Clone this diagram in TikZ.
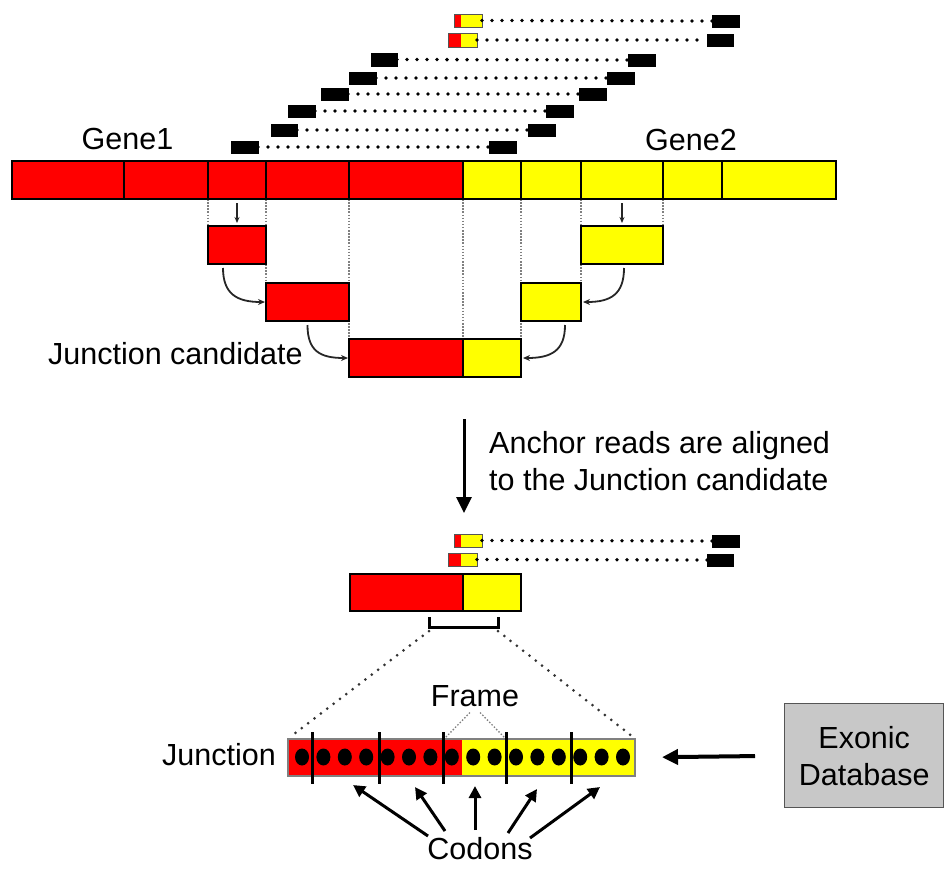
\documentclass[tikz,border=0pt]{standalone}
\usepackage{fontspec}
\setmainfont{Liberation Sans}
\usetikzlibrary{arrows.meta,backgrounds}
\definecolor{gred}{HTML}{FF0000}
\definecolor{gyel}{HTML}{FFFF00}
\definecolor{dbgray}{HTML}{C8C8C8}
\definecolor{edgegray}{HTML}{555555}
\newcommand{\bx}[6]{\node[rectangle,inner sep=0pt,outer sep=0pt,anchor=north west,minimum width={(#4-#2)*1pt},minimum height={(#5-#3)*1pt},#6] (#1) at (#2,#3) {};}
\begin{document}
\begin{tikzpicture}[x=1pt,y=-1pt,
  font=\fontsize{30.5}{37}\selectfont,
  seg/.style={draw=black,line width=1.8pt},
  rd/.style={draw=black,fill=black,line width=0.6pt},
  fusion/.style={draw=edgegray,line width=1pt,fill=gyel,
    path picture={\fill[gred] (path picture bounding box.north west) rectangle ([xshift=#1]path picture bounding box.south west);}},
  readdots/.style={line width=3.8pt,line cap=round,dash pattern=on 0pt off 10pt},
  gdots/.style={draw=gray,line width=1.3pt,dash pattern=on 1.5pt off 1.6pt},
  smallarr/.style={draw=black!85,line width=1.4pt,-{Stealth[length=6pt,width=5pt]}},
  curvarr/.style={draw=black!85,line width=1.8pt,-{Stealth[length=7pt,width=6pt]}},
  bigarr/.style={draw=black,line width=3pt,-{Triangle[length=16pt,width=15pt]}},
  codarr/.style={draw=black,line width=3pt,-{Triangle[length=12pt,width=12pt]}},
  zoomdot/.style={draw=black!80,line width=3pt,line cap=round,dash pattern=on 0pt off 8pt},
  framedot/.style={draw=gray,line width=1.3pt,dash pattern=on 1.5pt off 1.8pt},
  lbl/.style={inner sep=0pt}
]
\useasboundingbox (0,0) rectangle (944,868);

% ---------- gene bar ----------
\bx{ga}{12}{161}{124}{199}{seg,fill=gred}
\bx{gb}{124}{161}{208}{199}{seg,fill=gred}
\bx{gc}{208}{161}{266}{199}{seg,fill=gred}
\bx{gd}{266}{161}{349}{199}{seg,fill=gred}
\bx{ge}{349}{161}{463}{199}{seg,fill=gred}
\bx{ya}{463}{161}{521}{199}{seg,fill=gyel}
\bx{yb}{521}{161}{581}{199}{seg,fill=gyel}
\bx{yc}{581}{161}{663}{199}{seg,fill=gyel}
\bx{yd}{663}{161}{722}{199}{seg,fill=gyel}
\bx{ye}{722}{161}{836}{199}{seg,fill=gyel}

\node[lbl,anchor=base] (g1lbl) at (127.5,149) {Gene1};
\node[lbl,anchor=base] (g2lbl) at (691,150) {Gene2};

% ---------- exon boxes ----------
\bx{r1}{208}{226}{266}{264}{seg,fill=gred}
\bx{r2}{266}{283}{349}{321}{seg,fill=gred}
\bx{r3}{349}{339}{463}{377}{seg,fill=gred}
\bx{y1}{581}{226}{663}{264}{seg,fill=gyel}
\bx{y2}{521}{283}{581}{321}{seg,fill=gyel}
\bx{y3}{463}{339}{521}{377}{seg,fill=gyel}

\begin{scope}[on background layer]
\draw[gdots] (gc.south west) -- (r1.north west);
\draw[gdots] (gc.south east) -- (r2.north west);
\draw[gdots] (gd.south east) -- (r3.north west);
\draw[gdots] (ge.south east) -- (r3.north east);
\draw[gdots] (ya.south east) -- (y3.north east);
\draw[gdots] (yb.south east) -- (y2.north east);
\draw[gdots] (yc.south east) -- (y1.north east);
\end{scope}

\draw[smallarr] ([yshift=-4pt]gc.south) -- ([yshift=3pt]r1.north);
\draw[smallarr] ([yshift=-4pt]yc.south) -- ([yshift=3pt]y1.north);

\draw[curvarr] ([xshift=-14pt,yshift=-4pt]r1.south) .. controls +(0,26) and +(-28,0) .. ([xshift=-1pt]r2.west);
\draw[curvarr] ([yshift=-4pt]r2.south) .. controls +(0,26) and +(-28,0) .. ([xshift=-1pt]r3.west);
\draw[curvarr] ([xshift=2pt,yshift=-4pt]y1.south) .. controls +(0,26) and +(28,0) .. ([xshift=2pt]y2.east);
\draw[curvarr] ([xshift=14pt,yshift=-4pt]y2.south) .. controls +(0,26) and +(28,0) .. ([xshift=2pt]y3.east);

\node[lbl,anchor=base west] (jclbl) at (48,364) {Junction candidate};

% ---------- reads (top) ----------
\bx{fa}{454}{14}{482}{27}{fusion=7pt}
\bx{fam}{712}{15}{739}{27}{rd}
\bx{fb}{448}{33}{477}{47}{fusion=13pt}
\bx{fbm}{707}{34}{733}{46}{rd}
\bx{rcl}{371}{53}{397}{66}{rd}
\bx{rcr}{628}{54}{655}{66}{rd}
\bx{rdl}{349}{72}{376}{84}{rd}
\bx{rdr}{607}{72}{634}{84}{rd}
\bx{rel}{321}{88}{348}{100}{rd}
\bx{rer}{579}{88}{606}{100}{rd}
\bx{rfl}{288}{105}{315}{117}{rd}
\bx{rfr}{546}{105}{573}{117}{rd}
\bx{rgl}{271}{124}{297}{136}{rd}
\bx{rgr}{528}{124}{555}{136}{rd}
\bx{rhl}{231}{141}{258}{153}{rd}
\bx{rhr}{489}{141}{516}{153}{rd}
\draw[readdots] (fa.east) -- (fam.west);
\draw[readdots] (fb.east) -- (fbm.west);
\draw[readdots] (rcl.east) -- (rcr.west);
\draw[readdots] (rdl.east) -- (rdr.west);
\draw[readdots] (rel.east) -- (rer.west);
\draw[readdots] (rfl.east) -- (rfr.west);
\draw[readdots] (rgl.east) -- (rgr.west);
\draw[readdots] (rhl.east) -- (rhr.west);

% ---------- big arrow ----------
\coordinate (bt) at (464,419);
\coordinate (bb) at (464,513);
\draw[bigarr] (bt) -- (bb);
\node[lbl,anchor=base west] (anc1) at (489,453) {Anchor reads are aligned};
\node[lbl,anchor=base west] (anc2) at (489,490) {to the Junction candidate};

% ---------- aligned reads (bottom) ----------
\bx{fc}{454}{534}{482}{547}{fusion=7pt}
\bx{fcm}{712}{535}{739}{547}{rd}
\bx{fd}{448}{553}{477}{566}{fusion=13pt}
\bx{fdm}{707}{554}{733}{566}{rd}
\draw[readdots] (fc.east) -- (fcm.west);
\draw[readdots] (fd.east) -- (fdm.west);

\bx{jr}{350}{574}{463}{611}{seg,fill=gred}
\bx{jy}{463}{574}{521}{611}{seg,fill=gyel}

\coordinate (bkl) at (429,627);
\coordinate (bkr) at (498,627);
\draw[line width=3pt] ([yshift=10pt]bkl) -- (bkl) -- (bkr) -- ([yshift=10pt]bkr);

% ---------- junction ----------
\bx{jb}{288}{739}{635}{776}{draw=gray,line width=1.2pt,fill=gyel,
  path picture={\fill[gred] (path picture bounding box.north west) rectangle ([xshift=174pt]path picture bounding box.south west);}}
\draw[zoomdot] ([yshift=-4pt]bkl) -- ([xshift=2pt,yshift=2pt]jb.north west);
\draw[zoomdot] ([yshift=-4pt]bkr) -- ([xshift=-2pt,yshift=2pt]jb.north east);
\foreach \i in {0,...,15}
  \fill ({302+21.4*\i},757) ellipse [x radius=7pt, y radius=8.5pt];
\foreach \x in {312,379,443,506,571}
  \draw[line width=3pt] (\x,732) -- (\x,784);

\node[lbl,anchor=base west] (jlbl) at (162,765) {Junction};
\node[lbl,anchor=base] (frame) at (475,706) {Frame};
\draw[framedot] ([xshift=-5pt,yshift=-6pt]frame.south) -- (445,738);
\draw[framedot] ([xshift=5pt,yshift=-6pt]frame.south) -- (505,738);

% ---------- codons ----------
\node[lbl,anchor=base] (cod) at (480,859) {Codons};
\coordinate (cs1) at (428,836); \coordinate (ce1) at (353,785);
\coordinate (cs2) at (445,831); \coordinate (ce2) at (415,787);
\coordinate (cs3) at (475,830); \coordinate (ce3) at (475,786);
\coordinate (cs4) at (508,833); \coordinate (ce4) at (537,789);
\coordinate (cs5) at (530,838); \coordinate (ce5) at (600,787);
\foreach \k in {1,...,5} \draw[codarr] (cs\k) -- (ce\k);

% ---------- exonic database ----------
\node[draw=edgegray,line width=1.4pt,fill=dbgray,inner sep=0pt,anchor=north west,
  minimum width=159pt,minimum height=104pt,align=center] (db) at (784,703) {Exonic\\Database};
\draw[bigarr,line width=4pt,shorten <=29pt,shorten >=27pt] (db.west) -- (jb.east);
\end{tikzpicture}
\end{document}
